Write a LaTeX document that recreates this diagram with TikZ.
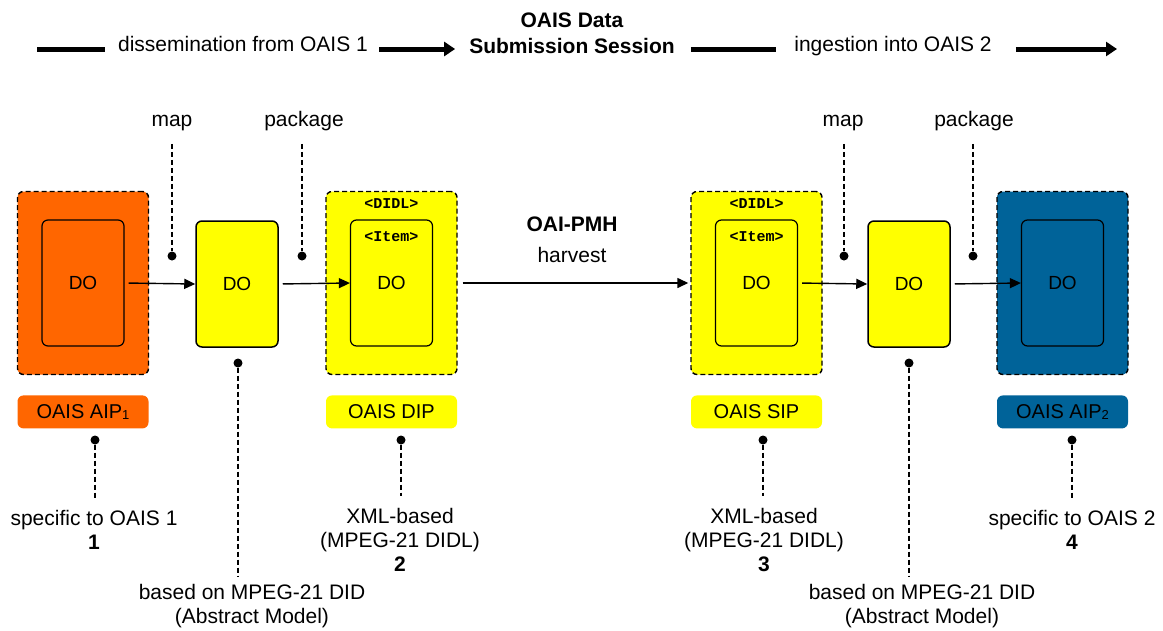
\documentclass[tikz,border=0pt]{standalone}
\usepackage{fontspec}
\setmainfont{Liberation Sans}
\setmonofont{Liberation Mono}
\usetikzlibrary{arrows.meta,positioning}

\definecolor{aiporange}{RGB}{255,102,0}
\definecolor{pkgyellow}{RGB}{255,255,0}
\definecolor{aipblue}{RGB}{0,99,153}

\newcommand{\aipidx}[1]{\raisebox{-1pt}{\fontsize{13}{13}\selectfont #1}}

\tikzset{
    outerbox/.style={draw, dash pattern=on 5pt off 3pt, line width=1.4pt,
        rounded corners=6pt, minimum width=131pt, minimum height=183pt},
    innerbox/.style={draw, line width=1.2pt, rounded corners=6pt,
        minimum width=82pt, minimum height=126pt, font=\fontsize{19}{19}\selectfont},
    dobox/.style={innerbox, line width=1.5pt, fill=pkgyellow},
    labelbox/.style={rounded corners=6pt, minimum width=131pt, minimum height=33pt,
        font=\fontsize{20}{20}\selectfont},
    tagtext/.style={font=\ttfamily\bfseries\fontsize{15}{15}\selectfont, inner sep=0pt},
    plaintext/.style={font=\fontsize{21}{24}\selectfont, align=center, inner sep=0pt},
    wordlabel/.style={plaintext, text height=15pt, text depth=4.5pt},
    pindot/.style={circle, fill=black, inner sep=0pt, minimum size=9pt},
    leader/.style={line width=1.7pt, dash pattern=on 5pt off 3pt},
    flow/.style={line width=1.4pt, shorten <=4pt, -{Triangle[length=11pt,width=10pt]}},
    bigflow/.style={line width=5pt},
    bighead/.style={-{Triangle[length=11pt,width=14pt]}},
}

\begin{document}
\begin{tikzpicture}[line cap=butt, line join=round, x=1pt, y=-1pt]
    \fill[white] (0,0) rectangle (1163,630);

    % header: direction of the transfer
    \node[plaintext, font=\bfseries\fontsize{21}{26}\selectfont] (session) at (572,33) {OAIS Data\\Submission Session};
    \node[wordlabel] (dissem) at (243,46) {dissemination from OAIS 1};
    \node[wordlabel] (ingest) at (893,46) {ingestion into OAIS 2};
    \coordinate (headstart) at (37,49);
    \coordinate (headend) at (1117,49);
    \draw[bigflow, shorten >=13pt] (headstart) -- (headstart -| dissem.west);
    \draw[bigflow, bighead, shorten <=11pt, shorten >=14pt] (headstart -| dissem.east) -- (headstart -| session.west);
    \draw[bigflow, shorten <=16pt, shorten >=18pt] (headstart -| session.east) -- (headstart -| ingest.west);
    \draw[bigflow, bighead, shorten <=24pt] (headstart -| ingest.east) -- (headend);

    % OAIS 1 side
    \node[outerbox, fill=aiporange] (aipone) at (83,283) {};
    \node[innerbox, fill=aiporange] (aiponedo) at (aipone) {DO};
    \node[dobox] (mapdoone) at (237,284) {DO};
    \node[outerbox, fill=pkgyellow] (dip) at (391.5,283) {};
    \node[innerbox, fill=pkgyellow] (dipdo) at (dip) {DO};
    \node[tagtext, below=8pt of dip.north] (dipdidl) {<DIDL>};
    \node[tagtext, below=12pt of dipdo.north] (dipitem) {<Item>};

    % OAIS 2 side
    \node[outerbox, fill=pkgyellow] (sip) at (756.5,283) {};
    \node[innerbox, fill=pkgyellow] (sipdo) at (sip) {DO};
    \node[tagtext, below=8pt of sip.north] (sipdidl) {<DIDL>};
    \node[tagtext, below=12pt of sipdo.north] (sipitem) {<Item>};
    \node[dobox] (mapdotwo) at (909,284) {DO};
    \node[outerbox, fill=aipblue] (aiptwo) at (1062.5,283) {};
    \node[innerbox, fill=aipblue] (aiptwodo) at (aiptwo) {DO};

    % package names
    \node[labelbox, fill=aiporange, below=20pt of aipone] (aiponelabel) {OAIS AIP\aipidx{1}};
    \node[labelbox, fill=pkgyellow, below=20pt of dip] (diplabel) {OAIS DIP};
    \node[labelbox, fill=pkgyellow, below=20pt of sip] (siplabel) {OAIS SIP};
    \node[labelbox, fill=aipblue, below=20pt of aiptwo] (aiptwolabel) {OAIS AIP\aipidx{2}};

    % the flow of the digital object
    \draw[flow] (aiponedo.east) -- (mapdoone.west);
    \draw[flow] (mapdoone.east) -- (dipdo.west);
    \draw[flow, shorten <=5pt, shorten >=2pt] (dip.east) -- (sip.west);
    \draw[flow] (sipdo.east) -- (mapdotwo.west);
    \draw[flow] (mapdotwo.east) -- (aiptwodo.west);
    \node[plaintext, font=\bfseries\fontsize{21}{24}\selectfont] (pmh) at (572,224) {OAI-PMH};
    \node[plaintext] (harvest) at (572,255) {harvest};

    % map / package steps
    \node[wordlabel] (mapone) at (172,121) {map};
    \node[wordlabel] (packone) at (304,121) {package};
    \node[wordlabel] (maptwo) at (843,121) {map};
    \node[wordlabel] (packtwo) at (974,121) {package};
    \node[pindot] (mapdotA) at (172,256) {};
    \node[pindot] (packdotA) at (302,256) {};
    \node[pindot] (mapdotB) at (844,256) {};
    \node[pindot] (packdotB) at (973,256) {};
    \foreach \lbl/\pin in {mapone/mapdotA, packone/packdotA, maptwo/mapdotB, packtwo/packdotB}
        \draw[leader, shorten <=13pt] (\pin |- \lbl.south) -- (\pin);

    % notes below the packages
    \node[plaintext, anchor=north] (specone) at (94,510) {specific to OAIS 1\\\textbf{1}};
    \node[plaintext, anchor=north] (xmlone) at (400,508) {XML-based\\(MPEG-21 DIDL)\\\textbf{2}};
    \node[plaintext, anchor=north] (xmltwo) at (764,508) {XML-based\\(MPEG-21 DIDL)\\\textbf{3}};
    \node[plaintext, anchor=north] (spectwo) at (1072,510) {specific to OAIS 2\\\textbf{4}};
    \node[plaintext, anchor=north] (basedone) at (252,584) {based on MPEG-21 DID\\(Abstract Model)};
    \node[plaintext, anchor=north] (basedtwo) at (922,584) {based on MPEG-21 DID\\(Abstract Model)};
    \node[pindot] (specdotA) at (95,440) {};
    \node[pindot] (xmldotA) at (401,440) {};
    \node[pindot] (xmldotB) at (763,440) {};
    \node[pindot] (specdotB) at (1072,440) {};
    \node[pindot] (baseddotA) at (238,363) {};
    \node[pindot] (baseddotB) at (909,363) {};
    \foreach \pin/\note in {specdotA/specone, xmldotA/xmlone, xmldotB/xmltwo, specdotB/spectwo}
        \draw[leader, shorten >=12pt] (\pin) -- (\pin |- \note.north);
    \foreach \pin/\note in {baseddotA/basedone, baseddotB/basedtwo}
        \draw[leader, shorten >=8pt] (\pin) -- (\pin |- \note.north);
\end{tikzpicture}
\end{document}
